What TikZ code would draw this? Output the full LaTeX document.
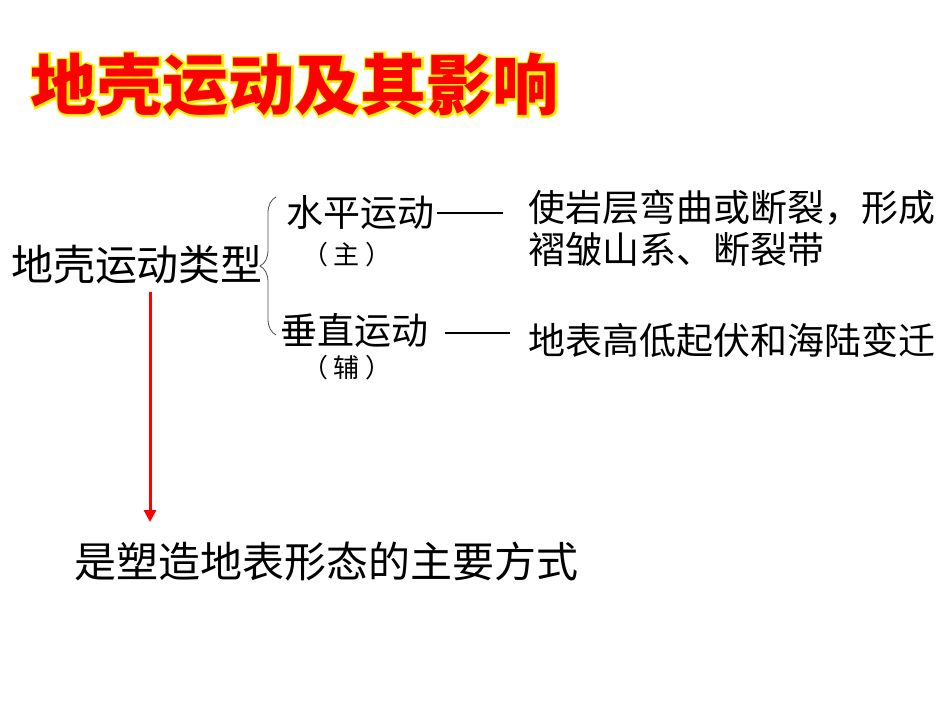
\documentclass[tikz,border=0pt]{standalone}
\usepackage{fontspec}
\setmainfont{Noto Sans CJK SC}
\newfontfamily\glowfont[FakeBold=6, BoldFeatures={FakeBold=6}]{Noto Sans CJK SC}
\usetikzlibrary{positioning, calc, decorations.pathreplacing, arrows.meta}

\begin{document}
\begin{tikzpicture}[x=0.5pt, y=-0.5pt,
        every node/.style={inner sep=0pt},
        bigtext/.style={font=\fontsize{21pt}{25pt}\selectfont},
        midtext/.style={font=\fontsize{18.5pt}{22pt}\selectfont},
        smalltext/.style={font=\fontsize{13pt}{16pt}\selectfont},
        titletext/.style={font=\fontsize{33pt}{38pt}\selectfont\bfseries},
        glowtext/.style={font=\glowfont\fontsize{33pt}{38pt}\selectfont\bfseries, text=yellow},
        dashline/.style={line width=1pt}]
        \useasboundingbox (0,0) rectangle (950,713);

        % Title with yellow glow
        \node[glowtext] (titleglow) at (295,85) {地壳运动及其影响};
        \node[titletext, text=red] (title) at (295,85) {地壳运动及其影响};

        % Left part
        \node[bigtext] (types) at (137,265) {地壳运动类型};
        \node[midtext] (horiz) at (360,213) {水平运动};
        \node[smalltext] (main) at (347,255) {（\hspace{3pt}主\hspace{3pt}）};
        \node[midtext] (vert) at (354,330) {垂直运动};
        \node[smalltext] (aux) at (347,368) {（\hspace{3pt}辅\hspace{3pt}）};

        % Brace
        \coordinate (bracebot) at (276,335);
        \coordinate (bracetop) at (276,197);
        \draw[black!70, decorate, decoration={brace, amplitude=8pt}] (bracebot) -- (bracetop);

        % Dashes
        \coordinate (dashoneA) at (437,213);
        \coordinate (dashoneB) at (503,213);
        \coordinate (dashtwoA) at (445,333);
        \coordinate (dashtwoB) at (510,333);
        \draw[dashline] (dashoneA) -- (dashoneB);
        \draw[dashline] (dashtwoA) -- (dashtwoB);

        % Right part
        \node[midtext, anchor=west] (effectA) at (528,208) {使岩层弯曲或断裂，形成};
        \node[midtext, anchor=west] (effectB) at (528,250) {褶皱山系、断裂带};
        \node[midtext, anchor=west] (effectC) at (528,340) {地表高低起伏和海陆变迁};

        % Arrow down
        \coordinate (arrowtop) at (150,292);
        \coordinate (arrowend) at (150,522);
        \draw[red, line width=1.5pt, -{Triangle[length=6pt, width=6pt]}] (arrowtop) -- (arrowend);
        \node[bigtext] (shaping) at (327,562) {是塑造地表形态的主要方式};
\end{tikzpicture}
\end{document}
